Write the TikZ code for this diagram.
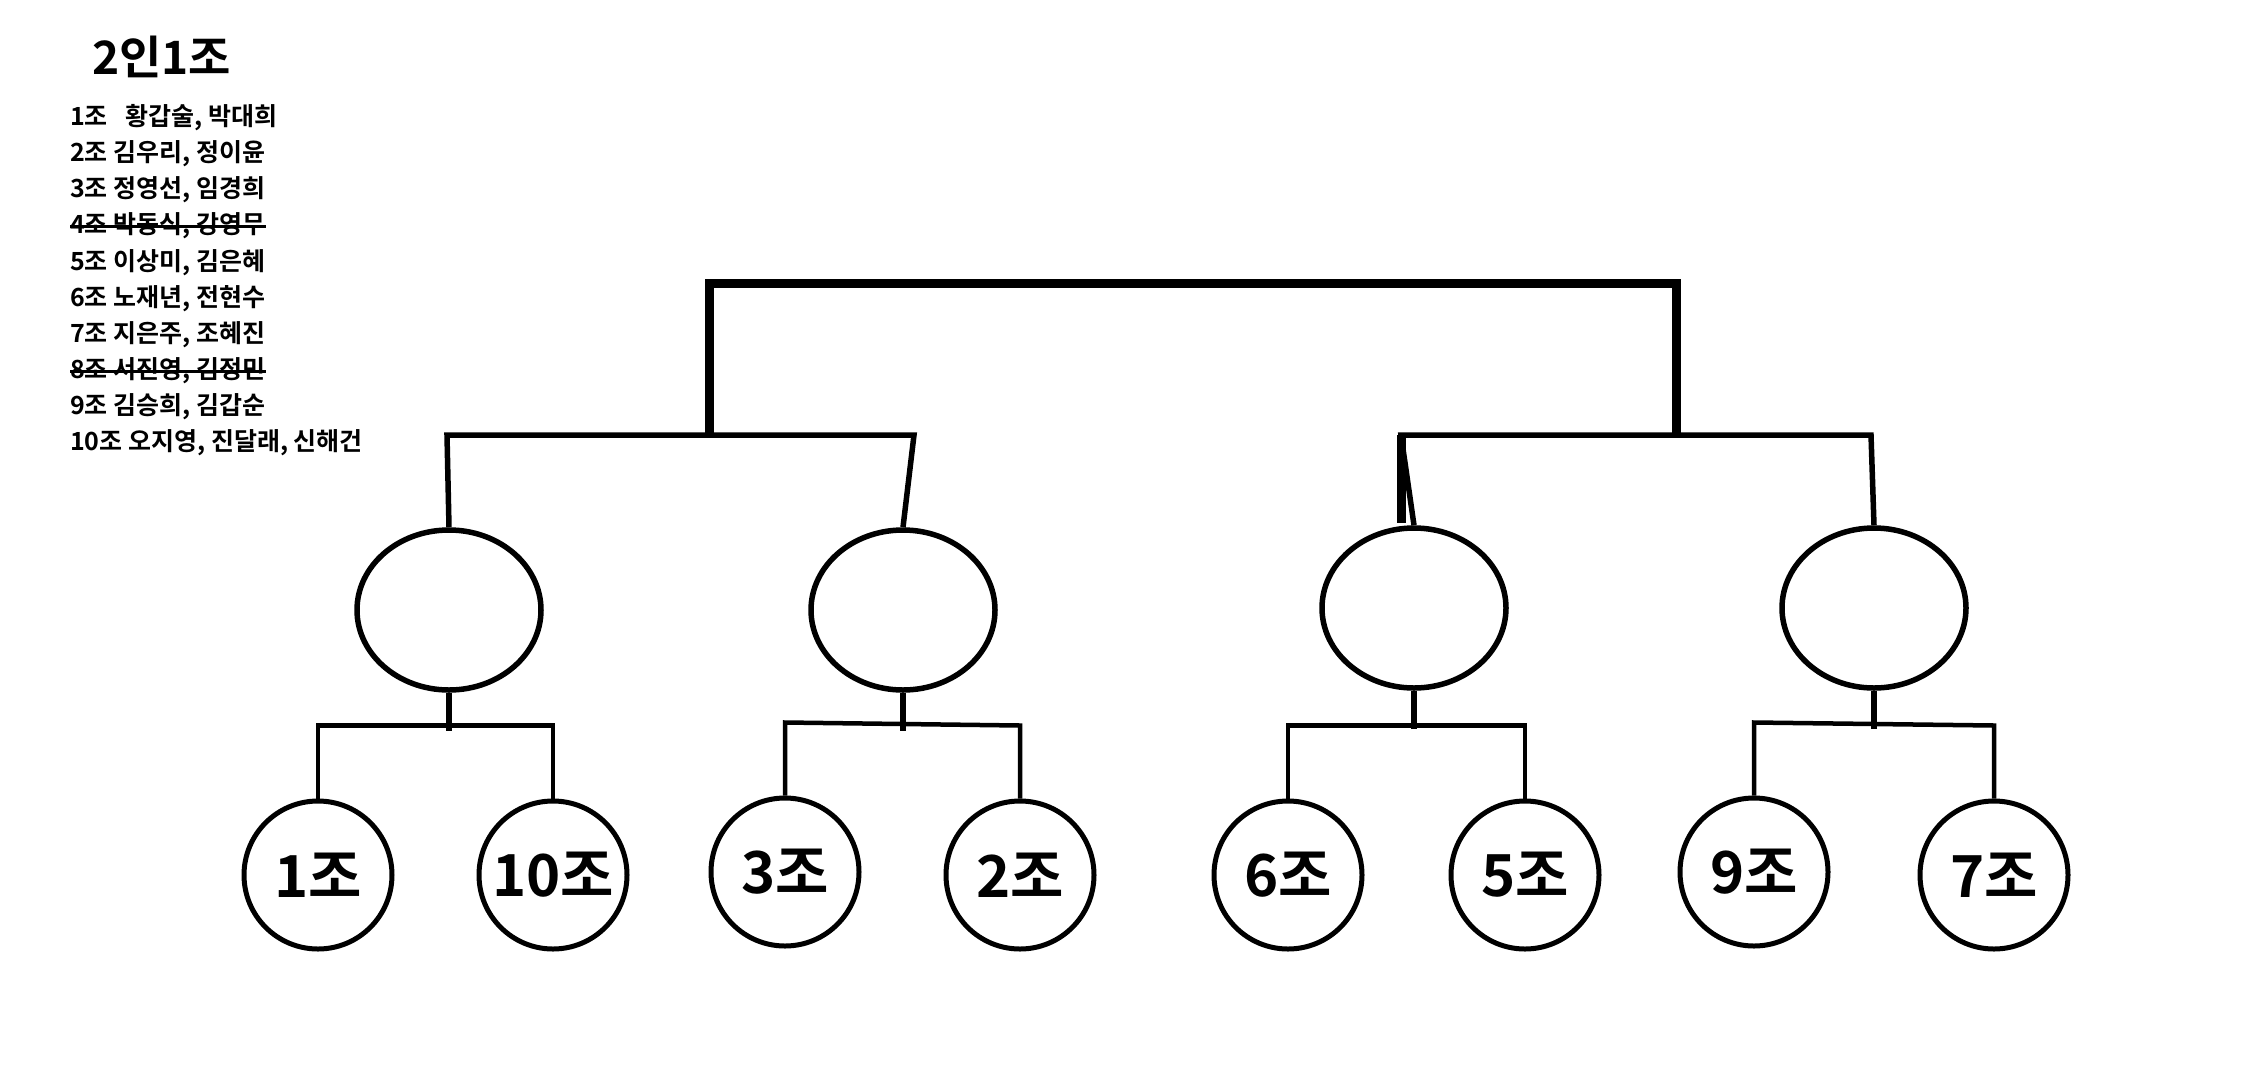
\documentclass[tikz,border=0pt]{standalone}
\usepackage{fontspec}
\usetikzlibrary{shapes.geometric,calc}
\setmainfont{Noto Sans CJK KR}[BoldFont={* Bold}]
\newfontfamily\kr{Noto Sans CJK KR Bold}
\begin{document}
\begin{tikzpicture}[x=1pt,y=-1pt,
  thick3/.style={line width=9pt},
  mid/.style={line width=5.5pt},
  thin/.style={line width=4.5pt},
  oval/.style={draw,line width=5.5pt,ellipse,minimum width=184pt,minimum height=160pt},
  team/.style={draw,line width=5pt,circle,minimum size=148pt,inner sep=0pt,font=\kr\fontsize{58}{60}\selectfont},
  item/.style={anchor=west,inner sep=0pt,font=\kr\fontsize{25}{27}\selectfont}]
\useasboundingbox (0,0) rectangle (2263,1080);
\node[anchor=west,inner sep=0pt,font=\kr\fontsize{46}{48}\selectfont] (title) at (92,57) {2인1조};
\node[item] (l1) at (70,118) {1조\hspace{18pt}황갑술, 박대희};
\node[item] (l2) at (70,154) {2조 김우리, 정이윤};
\node[item] (l3) at (70,190) {3조 정영선, 임경희};
\node[item] (l4) at (70,226) {4조 박동식, 강영무};
\node[item] (l5) at (70,263) {5조 이상미, 김은혜};
\node[item] (l6) at (70,299) {6조 노재년, 전현수};
\node[item] (l7) at (70,335) {7조 지은주, 조혜진};
\node[item] (l8) at (70,371) {8조 서진영, 김정민};
\node[item] (l9) at (70,407) {9조 김승희, 김갑순};
\node[item] (l10) at (70,443) {10조 오지영, 진달래, 신해건};
\draw[line width=3pt] (l4.west) -- (l4.east);
\draw[line width=3pt] (l8.west) -- (l8.east);
% ellipses
\node[oval] (e1) at (449,610) {};
\node[oval] (e2) at (903,610) {};
\node[oval] (e3) at (1414,608) {};
\node[oval] (e4) at (1874,608) {};
% teams
\node[team] (t1) at (318,875) {1조};
\node[team] (t10) at (553,875) {10조};
\node[team] (t3) at (785,872) {3조};
\node[team] (t2) at (1020,875) {2조};
\node[team] (t6) at (1288,875) {6조};
\node[team] (t5) at (1525,875) {5조};
\node[team] (t9) at (1754,872) {9조};
\node[team] (t7) at (1994,875) {7조};
% top bracket
\coordinate (a) at (709,435); \coordinate (b) at (1676,435);
\draw[thick3,line join=miter] (a) -- (709,283) -- (1676,283) -- (b);
\draw[mid] (e1.north) -- (447,435) -- (914,435) -- (e2.north);
\draw[mid] (e3.north) -- (1401,435) -- (1871,435) -- (e4.north);
\draw[thick3] (1401,435) -- (1401,523);
% lower brackets
\foreach \e/\l/\r in {e1/t1/t10,e2/t3/t2,e3/t6/t5,e4/t9/t7}{
  \draw[mid] (\e.south) -- ++(0,38);
  \path (\l.north) ++(0,-73) coordinate (p1);
  \path (\r.north) ++(0,-73) coordinate (p2);
  \draw[thin] (\l.north) -- (p1) -- (p2) -- (\r.north);
}
\end{tikzpicture}
\end{document}
